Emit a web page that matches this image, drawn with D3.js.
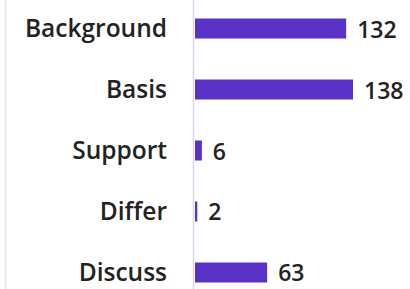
<!DOCTYPE html>
<html>
<head>
<meta charset="utf-8">
<script src="https://cdn.jsdelivr.net/npm/d3@7"></script>
<style>
  html, body { margin: 0; padding: 0; background: #ffffff; }
  svg { display: block; }
</style>
</head>
<body>
<svg id="chart" width="410" height="289"></svg>
<script>
const categories = ["Background", "Basis", "Support", "Differ", "Discuss"];
const values = [132, 138, 6, 2, 63];

const W = 410, H = 289;
const svg = d3.select("#chart");

const x = d3.scaleLinear().domain([0, 138]).range([195, 353]);
const y = d3.scaleBand().domain(categories).range([18.5, 282.5]).paddingInner(0.672).paddingOuter(0);

// left border line
svg.append("line")
  .attr("x1", 5.5).attr("x2", 5.5).attr("y1", 0).attr("y2", H)
  .attr("stroke", "#e3e3e3").attr("stroke-width", 1.5);

// axis line
svg.append("line")
  .attr("x1", 193.5).attr("x2", 193.5).attr("y1", 0).attr("y2", H)
  .attr("stroke", "#dcd5f0").attr("stroke-width", 1.5);

const data = categories.map((c, i) => ({ c, v: values[i] }));

svg.selectAll("rect.bar").data(data).enter().append("rect")
  .attr("class", "bar")
  .attr("x", x(0))
  .attr("y", d => y(d.c))
  .attr("width", d => x(d.v) - x(0))
  .attr("height", y.bandwidth())
  .attr("fill", "#5b32c6");

svg.selectAll("text.cat").data(data).enter().append("text")
  .attr("class", "cat")
  .attr("x", 167)
  .attr("y", d => y(d.c) + y.bandwidth() / 2 + 8.7)
  .attr("text-anchor", "end")
  .attr("font-family", "'Open Sans', sans-serif")
  .attr("font-weight", 600)
  .attr("font-size", 24.5)
  .attr("fill", "#222222")
  .text(d => d.c);

svg.selectAll("text.val").data(data).enter().append("text")
  .attr("class", "val")
  .attr("x", d => x(d.v) + 11)
  .attr("y", d => y(d.c) + y.bandwidth() / 2 + 9)
  .attr("text-anchor", "start")
  .attr("font-family", "'Open Sans', sans-serif")
  .attr("font-weight", 600)
  .attr("font-size", 23)
  .attr("fill", "#222222")
  .text(d => d.v);
</script>
</body>
</html>
